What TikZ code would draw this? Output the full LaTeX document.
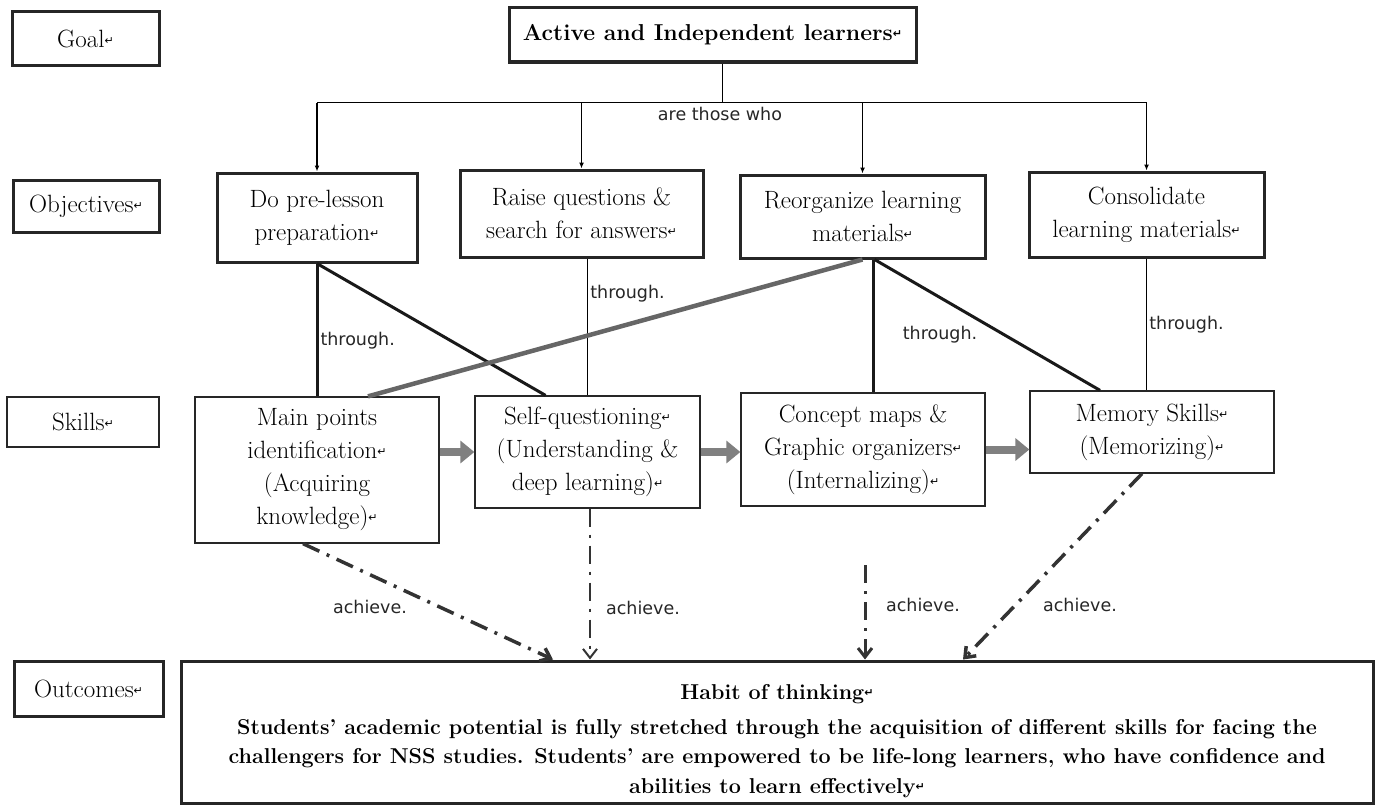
\documentclass[tikz,border=0pt]{standalone}
\usepackage{fontspec}
\usetikzlibrary{arrows.meta}
\newfontfamily\notefont{DejaVu Sans}
\newcommand{\eol}{{\notefont\fontsize{11}{11}\selectfont\raisebox{0.5ex}{↵}}}

\begin{document}
\begin{tikzpicture}[x=1pt, y=-1pt,
  box/.style={draw=black!85, align=center, inner sep=0pt, font=\fontsize{25}{33}\selectfont},
  heavy/.style={line width=3pt},
  light/.style={line width=1.3pt},
  note/.style={font=\notefont\fontsize{17.5}{17.5}\selectfont, text=black!85, inner sep=2pt},
  link/.style={line width=3pt, draw=black!90},
  thinlink/.style={line width=1.6pt},
  flow/.style={line width=8pt, draw=black!50, -{Triangle[length=14pt, width=22pt]}},
  reach/.style={line width=3.5pt, draw=black!80, dash pattern=on 18pt off 8pt on 3pt off 8pt, -{Straight Barb[length=9pt, width=14pt]}}]
  \useasboundingbox (0,0) rectangle (1380,808);

  % row labels
  \node[box, heavy, minimum width=147pt, minimum height=53pt] (goal) at (85.5,38.5) {Goal\eol};
  \node[box, heavy, minimum width=146pt, minimum height=52pt] (obj) at (86,206) {Objectives\eol};
  \node[box, light, minimum width=152pt, minimum height=50pt] (skl) at (83,422) {Skills\eol};
  \node[box, heavy, minimum width=149pt, minimum height=55pt] (outc) at (88.5,688.5) {Outcomes\eol};

  % goal
  \node[box, heavy, minimum width=407pt, minimum height=54pt, font=\bfseries\fontsize{23}{32}\selectfont] (act) at (712.5,35) {Active and Independent learners\eol};

  % objectives
  \node[box, heavy, minimum width=200pt, minimum height=89pt] (pre) at (317,217.5) {Do pre-lesson\\ preparation\eol};
  \node[box, heavy, minimum width=243pt, minimum height=87pt] (raise) at (581.5,213.5) {Raise questions \&\\ search for answers\eol};
  \node[box, heavy, minimum width=245pt, minimum height=83pt] (reorg) at (862.5,216.5) {Reorganize learning\\ materials\eol};
  \node[box, heavy, minimum width=235pt, minimum height=85pt] (cons) at (1146.5,214.5) {Consolidate\\ learning materials\eol};

  % skills
  \node[box, light, minimum width=244pt, minimum height=146pt] (main) at (317,470) {Main points\\ identification\eol\\ (Acquiring\\ knowledge)\eol};
  \node[box, light, minimum width=225pt, minimum height=112pt] (self) at (587.5,452) {Self-questioning\eol\\ (Understanding \&\\ deep learning)\eol};
  \node[box, light, minimum width=244pt, minimum height=113pt] (concept) at (863,449.5) {Concept maps \&\\ Graphic organizers\eol\\ (Internalizing)\eol};
  \node[box, light, minimum width=244pt, minimum height=82pt] (memory) at (1152,432) {Memory Skills\eol\\ (Memorizing)\eol};

  % outcome
  \node[box, heavy, minimum width=1192pt, minimum height=142pt, font=\bfseries\fontsize{21.5}{29.5}\selectfont] (out) at (777,732) {\rule{0pt}{33pt}Habit of thinking\eol\\[5pt] Students’ academic potential is fully stretched through the acquisition of different skills for facing the\\ challengers for NSS studies. Students’ are empowered to be life-long learners, who have confidence and\\ abilities to learn effectively\eol};

  % goal to objectives
  \draw[light] ([xshift=10pt]act.south) -- ++(0,39) coordinate (bus);
  \draw[light] (pre.north |- bus) -- (cons.north |- bus);
  \foreach \b in {pre, raise, reorg, cons}
    \draw[light, -{Latex[length=6pt, width=5pt]}] (\b.north |- bus) -- (\b.north);
  \node[note] (who) at (720,114) {are those who};

  % objectives to skills
  \draw[link] (pre.south) -- node[note, right, pos=0.58] (th1) {through.} (main.north);
  \draw[link] (pre.south) -- ([xshift=-42pt]self.north);
  \draw[thinlink] (raise.south -| self.north) -- node[note, right, pos=0.26] (th2) {through.} (self.north);
  \draw[link, draw=black!60, line width=4.5pt] (reorg.south) -- ([xshift=51pt]main.north);
  \draw[link] ([xshift=10pt]concept.north |- reorg.south) -- ([xshift=10pt]concept.north);
  \node[note] (th3) at (940,335) {through.};
  \draw[link] ([xshift=12pt]reorg.south) -- ([xshift=-52pt]memory.north);
  \draw[thinlink] (cons.south) -- node[note, right, pos=0.5] (th4) {through.} (cons.south |- memory.north);

  % skill order
  \draw[flow] (main.east |- self.west) -- (self.west);
  \draw[flow] (self.east) -- (self.east -| concept.west);
  \draw[flow] (concept.east) -- (concept.east -| memory.west);

  % skills to outcome
  \draw[reach] ([xshift=-14pt]main.south) -- ([xshift=-224pt]out.north);
  \draw[reach, line width=2pt] ([xshift=2.5pt]self.south) -- ([xshift=-187pt]out.north);
  \coordinate (cstart) at (865,565);
  \draw[reach, line width=3pt] (cstart) -- (cstart |- out.north);
  \draw[reach] ([xshift=-10pt]memory.south) -- ([xshift=186pt]out.north);
  \node[note] (a1) at (370,607) {achieve.};
  \node[note] (a2) at (643,608) {achieve.};
  \node[note] (a3) at (923,605) {achieve.};
  \node[note] (a4) at (1080,605) {achieve.};
\end{tikzpicture}
\end{document}
